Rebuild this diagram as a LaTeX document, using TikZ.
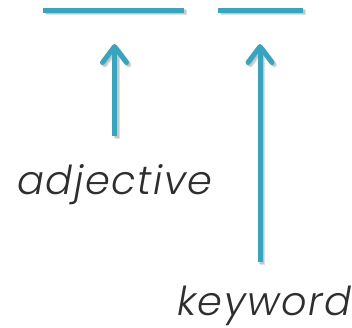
\documentclass[tikz,border=0pt]{standalone}
\usepackage{fontspec}
\newfontfamily\labelfont{Poppins Light Italic}[LetterSpace=4]
\usetikzlibrary{arrows.meta}
\definecolor{teal}{HTML}{38A4BD}
\definecolor{ink}{HTML}{2E2E2E}
\tikzset{
  bar/.style={line width=5bp, draw=teal},
  shade/.style={line width=5bp, draw=black, opacity=0.12},
  barb/.style={-{Straight Barb[length=16bp,width=24bp,line cap=round,line join=round]}},
  uparrow/.style={line width=5bp, draw=teal, barb},
  label/.style={inner sep=0pt, anchor=base west, text=ink,
    font=\fontsize{40}{40}\labelfont}
}
\begin{document}
\begin{tikzpicture}[x=1bp,y=-1bp]
  \useasboundingbox (0,0) rectangle (352,328);
  % blanks to fill in
  \coordinate (b1l) at (43,10);  \coordinate (b1r) at (184,10);
  \coordinate (b2l) at (218,10); \coordinate (b2r) at (303,10);
  % arrow ends
  \coordinate (a1s) at (114.5,136); \coordinate (a1e) at (114.5,44);
  \coordinate (a2s) at (260,262);   \coordinate (a2e) at (260,44);
  % soft shadows
  \foreach \d in {1.5,2.5} {
    \draw[shade] ([shift={(\d,\d)}]b1l) -- ([shift={(\d,\d)}]b1r);
    \draw[shade] ([shift={(\d,\d)}]b2l) -- ([shift={(\d,\d)}]b2r);
    \draw[shade,barb] ([shift={(\d,\d)}]a1s) -- ([shift={(\d,\d)}]a1e);
    \draw[shade,barb] ([shift={(\d,\d)}]a2s) -- ([shift={(\d,\d)}]a2e);
  }
  \draw[bar] (b1l) -- (b1r);
  \draw[bar] (b2l) -- (b2r);
  \draw[uparrow] (a1s) -- (a1e);
  \draw[uparrow] (a2s) -- (a2e);
  % labels
  \node[label] (adj) at (17,194) {adjective};
  \node[label] (kw) at (177,315) {keyword};
\end{tikzpicture}
\end{document}
